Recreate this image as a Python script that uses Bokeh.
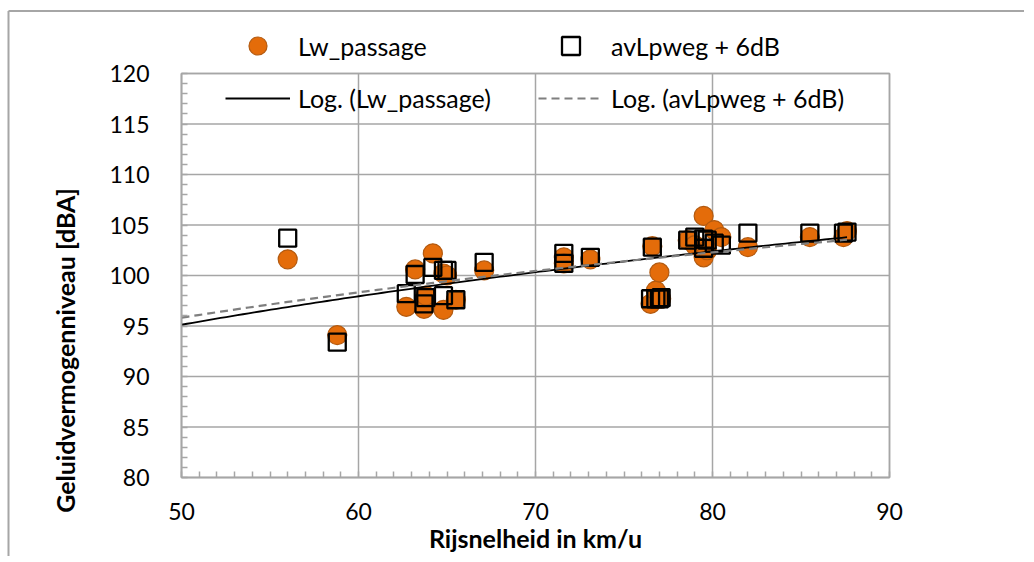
import math
import numpy as np
from bokeh.plotting import figure
from bokeh.models import Legend, LegendItem, Label, SingleIntervalTicker, Range1d
from bokeh.embed import file_html
from bokeh.resources import INLINE

# ---- data ----
speed = [56.0, 58.8, 62.7, 63.2, 63.7, 63.8, 64.2, 64.8, 64.8, 65.0, 65.5, 67.1,
         71.6, 71.6, 73.1, 76.5, 76.6, 76.8, 77.0, 77.1, 78.6, 79.0, 79.5, 79.5,
         79.7, 80.1, 80.5, 82.0, 85.5, 87.4, 87.6]
lw_passage = [101.6, 94.1, 96.9, 100.6, 96.7, 98.0, 102.2, 96.6, 100.2, 100.0, 97.6, 100.5,
              101.8, 101.2, 101.6, 97.2, 102.9, 98.5, 100.3, 97.7, 103.5, 103.0, 105.9, 101.8,
              102.5, 104.5, 103.8, 102.8, 103.8, 103.8, 104.4]
avlpweg_6db = [103.7, 93.4, 98.2, 100.1, 97.2, 97.8, 100.8, 98.0, 100.5, 100.5, 97.6, 101.3,
               102.2, 101.2, 101.8, 97.7, 102.8, 97.7, 97.7, 97.8, 103.5, 103.8, 103.6, 102.7,
               103.5, 103.2, 103.0, 104.2, 104.2, 104.2, 104.3]
x_ticks = [50, 60, 70, 80, 90]
y_ticks = [80, 85, 90, 95, 100, 105, 110, 115, 120]
series_names = ["Lw_passage", "avLpweg + 6dB", "Log. (Lw_passage)", "Log. (avLpweg + 6dB)"]
x_title = "Rijsnelheid in km/u"
y_title = "Geluidvermogenniveau [dBA]"

FONT = "Lato"
GRID = "#a6a6a6"

# ---- layout: the frame fills the whole canvas; the plot area is placed inside it ----
W, H = 1024, 556
PA_LEFT, PA_RIGHT, PA_TOP, PA_BOTTOM = 181, 889, 73, 477   # plot-area edges in pixels
x0, x1 = x_ticks[0], x_ticks[-1]
y0, y1 = y_ticks[0], y_ticks[-1]
kx = (PA_RIGHT - PA_LEFT) / (x1 - x0)
ky = (PA_BOTTOM - PA_TOP) / (y1 - y0)
xr = Range1d(x0 - PA_LEFT / kx, x1 + (W - PA_RIGHT) / kx)
yr = Range1d(y0 - (H - PA_BOTTOM) / ky, y1 + PA_TOP / ky)

def dx(px):
    return xr.start + px / kx

def dy(py):
    return yr.end - py / ky

# logarithmic trend lines (least squares on ln(x)), drawn from 50 to the largest speed
xs = np.array(speed)
trend_x = np.linspace(x0, xs.max(), 120)
a1, b1 = np.polyfit(np.log(xs), np.array(lw_passage), 1)
a2, b2 = np.polyfit(np.log(xs), np.array(avlpweg_6db), 1)
trend_lw = a1 * np.log(trend_x) + b1
trend_av = a2 * np.log(trend_x) + b2

p = figure(width=W, height=H, x_range=xr, y_range=yr,
           output_backend="svg", toolbar_location=None,
           min_border_left=0, min_border_right=0, min_border_top=0, min_border_bottom=0)
p.background_fill_color = "white"
p.border_fill_color = "white"
p.outline_line_color = None
p.xgrid.grid_line_color = None
p.ygrid.grid_line_color = None

# outer chart border (top and left edges)
p.segment(x0=[dx(8), dx(8)], y0=[dy(10.5), dy(10.5)], x1=[dx(W + 20), dx(8)], y1=[dy(10.5), dy(H + 20)],
          line_color=GRID, line_width=2)

# plot area: gridlines from the tick lists, then the border
p.segment(x0=x_ticks, y0=[y0] * len(x_ticks), x1=x_ticks, y1=[y1] * len(x_ticks),
          line_color=GRID, line_width=1.5)
p.segment(x0=[x0] * len(y_ticks), y0=y_ticks, x1=[x1] * len(y_ticks), y1=y_ticks,
          line_color=GRID, line_width=1.5)
p.quad(left=[x0], right=[x1], bottom=[y0], top=[y1], fill_color=None,
       line_color=GRID, line_width=1.5)

# axes fixed on the plot-area edges
p.xaxis.fixed_location = y0
p.yaxis.fixed_location = x0
p.xaxis.bounds = (x0, x1)
p.yaxis.bounds = (y0, y1)
p.xaxis.ticker = SingleIntervalTicker(interval=10, num_minor_ticks=10)
p.yaxis.ticker = SingleIntervalTicker(interval=5, num_minor_ticks=5)
for ax in (p.xaxis[0], p.yaxis[0]):
    ax.axis_line_color = GRID
    ax.axis_line_width = 1.5
    ax.major_tick_line_color = None
    ax.minor_tick_line_color = GRID
    ax.minor_tick_line_width = 1.5
    ax.minor_tick_in = 6
    ax.minor_tick_out = 0
    ax.major_label_text_font = FONT
    ax.major_label_text_font_size = "23px"
    ax.major_label_text_color = "black"
p.xaxis.major_label_standoff = 19
p.yaxis.major_label_standoff = 26

r_lw = p.scatter(speed, lw_passage, marker="circle", size=19,
                 fill_color="#E46C0A", line_color="#B35A10", line_width=1.2)
r_av = p.scatter(speed, avlpweg_6db, marker="square", size=17,
                 fill_color=None, line_color="black", line_width=2.3)
r_t1 = p.line(trend_x, trend_lw, line_color="black", line_width=1.8)
r_t2 = p.line(trend_x, trend_av, line_color="#7f7f7f", line_width=2.2, line_dash="8 5")

common = dict(orientation="horizontal", background_fill_alpha=0, border_line_color=None,
              padding=0, margin=0, glyph_width=65, label_standoff=8,
              label_width=215, spacing=25,
              label_text_font=FONT, label_text_font_size="25px", label_text_color="black")

legend_top = Legend(items=[LegendItem(label=series_names[0], renderers=[r_lw]),
                           LegendItem(label=series_names[1], renderers=[r_av])],
                    location=(225, H - 46 - 22), glyph_height=45, label_height=30, **common)
legend_bot = Legend(items=[LegendItem(label=series_names[2], renderers=[r_t1]),
                           LegendItem(label=series_names[3], renderers=[r_t2])],
                    location=(225, H - 98 - 15), glyph_height=30, label_height=30, **common)
p.add_layout(legend_top, "center")
p.add_layout(legend_bot, "center")

p.add_layout(Label(x=(PA_LEFT + PA_RIGHT) / 2, y=H - 537, x_units="screen", y_units="screen",
                   text=x_title, text_align="center", text_baseline="middle",
                   text_font=FONT, text_font_style="bold", text_font_size="25px",
                   text_color="black"))
p.add_layout(Label(x=64, y=H - 350, x_units="screen", y_units="screen",
                   text=y_title, angle=math.pi / 2, text_align="center", text_baseline="middle",
                   text_font=FONT, text_font_style="bold", text_font_size="25px",
                   text_color="black"))

open("out.html", "w").write(file_html(p, INLINE))
